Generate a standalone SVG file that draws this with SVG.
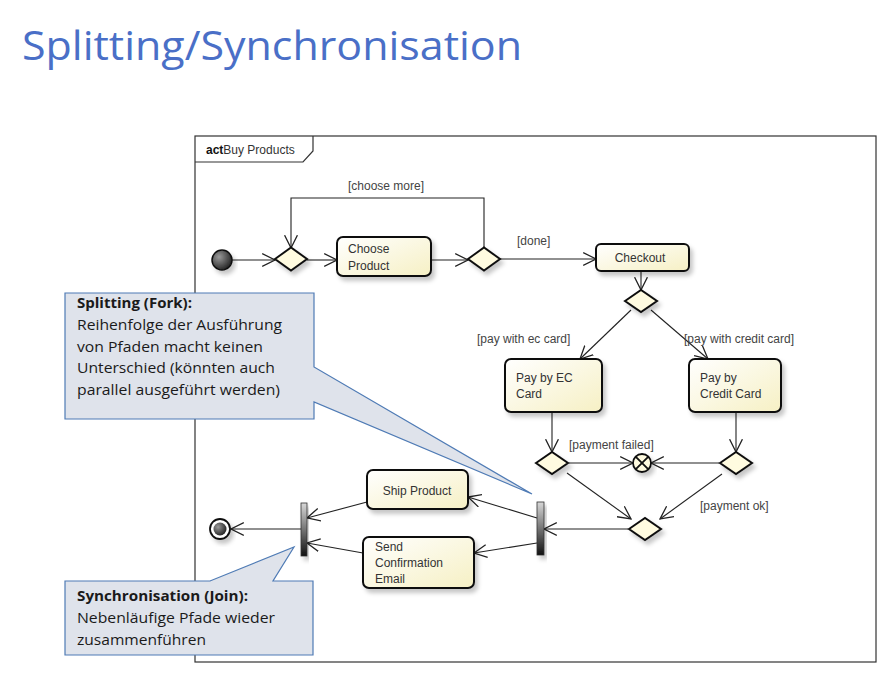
<svg xmlns="http://www.w3.org/2000/svg" width="890" height="685" viewBox="0 0 890 685">
<defs>
<style>
.title{font-family:"Open Sans","Noto Sans","Liberation Sans",sans-serif;font-size:40px;fill:#4a6fc7}
.frame{fill:none;stroke:#333;stroke-width:1.2}
.act{fill:url(#actG);stroke:#111;stroke-width:2;filter:url(#sh)}
.dec{fill:#fffbe0;stroke:#111;stroke-width:2;filter:url(#sh)}
.t{font-family:"Liberation Sans",Arial,sans-serif;font-size:12px;fill:#333}
.lbl{font-family:"Liberation Sans",Arial,sans-serif;font-size:12px;fill:#444}
.edge{fill:none;stroke:#222;stroke-width:1.1;marker-end:url(#arr)}
.call{fill:#dfe3eb;stroke:#4f7bb5;stroke-width:1.2}
.ct{font-family:"Open Sans","Noto Sans","Liberation Sans",sans-serif;font-size:15px;fill:#1a1a1a}
.ctb{font-family:"Open Sans","Noto Sans","Liberation Sans",sans-serif;font-size:15px;font-weight:bold;fill:#1a1a1a}
</style>
<linearGradient id="actG" x1="0" y1="0" x2="1" y2="1">
<stop offset="0" stop-color="#ffffff"/><stop offset="1" stop-color="#f6f0c4"/>
</linearGradient>
<radialGradient id="ballG" cx="0.35" cy="0.35" r="0.7">
<stop offset="0" stop-color="#9a9a9a"/><stop offset="1" stop-color="#222"/>
</radialGradient>
<linearGradient id="barG" x1="0" y1="0" x2="0" y2="1">
<stop offset="0" stop-color="#d8d8d8"/><stop offset="1" stop-color="#111"/>
</linearGradient>
<filter id="sh" x="-20%" y="-20%" width="150%" height="160%">
<feDropShadow dx="3" dy="4" stdDeviation="2" flood-color="#000" flood-opacity="0.22"/>
</filter>
<marker id="arr" markerUnits="userSpaceOnUse" markerWidth="14" markerHeight="14" viewBox="0 0 12 12" refX="11" refY="6" orient="auto">
<path d="M0,0.5 L11,6 L0,11.5" fill="none" stroke="#222" stroke-width="1.1"/>
</marker>
</defs>
<rect width="890" height="685" fill="#fff"/>
<text class="title" x="22" y="60" textLength="500" lengthAdjust="spacingAndGlyphs">Splitting/Synchronisation</text>

<g id="frame">
<rect class="frame" x="195" y="136" width="681" height="526"/>
<path class="frame" d="M195,162 L303,162 L313,151 L313,136"/>
<text x="206" y="154" font-family="Liberation Sans,Arial,sans-serif" font-size="12px" fill="#111"><tspan font-weight="bold">act</tspan><tspan fill="#333">Buy Products</tspan></text>
</g>

<g id="connectors">
<path class="edge" d="M232,260 L275,260"/>
<path class="edge" d="M307,260 L337,260"/>
<path class="edge" d="M431,260 L468,260"/>
<path class="edge" d="M484,248 L484,198 L291,198 L291,248"/>
<path class="edge" d="M500,259 L596,259"/>
<path class="edge" d="M641,271 L641,290"/>
<path class="edge" d="M631,310 L580,359"/>
<path class="edge" d="M651,310 L708,359"/>
<path class="edge" d="M552,412 L552,452"/>
<path class="edge" d="M736,412 L736,452"/>
<path class="edge" d="M569,463 L633,463"/>
<path class="edge" d="M719,463 L651,463"/>
<path class="edge" d="M567,473 L631,519"/>
<path class="edge" d="M722,474 L660,519"/>
<path class="edge" d="M628,529 L544,529"/>
<path class="edge" d="M537,518 L468,497"/>
<path class="edge" d="M537,543 L474,553"/>
<path class="edge" d="M367,502 L307,518"/>
<path class="edge" d="M363,553 L307,543"/>
<path class="edge" d="M301,529 L231,529"/>
</g>

<g id="labels">
<text class="lbl" x="386" y="190" text-anchor="middle">[choose more]</text>
<text class="lbl" x="517" y="245">[done]</text>
<text class="lbl" x="477" y="343">[pay with ec card]</text>
<text class="lbl" x="684" y="343">[pay with credit card]</text>
<text class="lbl" x="569" y="449">[payment failed]</text>
<text class="lbl" x="700" y="510">[payment ok]</text>
</g>

<g id="initial"><circle cx="222" cy="260" r="10" fill="url(#ballG)" stroke="#111" stroke-width="1.5" filter="url(#sh)"/></g>
<g id="dec1"><polygon class="dec" points="275,259 291,247.5 307,259 291,270.5"/></g>
<g id="choose"><rect class="act" x="337" y="237" width="94" height="39" rx="6"/><text class="t" x="348" y="253">Choose</text><text class="t" x="348" y="270">Product</text></g>
<g id="dec2"><polygon class="dec" points="468,259 484,247.5 500,259 484,270.5"/></g>
<g id="checkout"><rect class="act" x="596" y="244" width="93" height="27" rx="5"/><text class="t" x="640" y="262" text-anchor="middle">Checkout</text></g>
<g id="dec3"><polygon class="dec" points="625,301 641,290 657,301 641,312"/></g>
<g id="payec"><rect class="act" x="505" y="359" width="97" height="53" rx="6"/><text class="t" x="516" y="382">Pay by EC</text><text class="t" x="516" y="398">Card</text></g>
<g id="paycc"><rect class="act" x="689" y="359" width="92" height="53" rx="6"/><text class="t" x="700" y="382">Pay by</text><text class="t" x="700" y="398">Credit Card</text></g>
<g id="dec4"><polygon class="dec" points="536,463 552,452 568,463 552,474"/></g>
<g id="dec5"><polygon class="dec" points="720,463 736,452 752,463 736,474"/></g>
<g id="flowfinal"><circle cx="642" cy="463" r="9" fill="#fffbe0" stroke="#111" stroke-width="1.8" filter="url(#sh)"/><path d="M635.6,456.6 L648.4,469.4 M648.4,456.6 L635.6,469.4" stroke="#111" stroke-width="1.8"/></g>
<g id="merge"><polygon class="dec" points="629,529 645,518 661,529 645,540"/></g>
<g id="fork"><rect x="537" y="502" width="7" height="53" fill="url(#barG)" stroke="#333" stroke-width="0.8" filter="url(#sh)"/></g>
<g id="ship"><rect class="act" x="367" y="470" width="101" height="39" rx="6"/><text class="t" x="417" y="495" text-anchor="middle">Ship Product</text></g>
<g id="send"><rect class="act" x="363" y="537" width="111" height="51" rx="6"/><text class="t" x="375" y="551">Send</text><text class="t" x="375" y="567">Confirmation</text><text class="t" x="375" y="583">Email</text></g>
<g id="join"><rect x="301" y="503" width="6" height="53" fill="url(#barG)" stroke="#333" stroke-width="0.8" filter="url(#sh)"/></g>
<g id="final"><circle cx="220" cy="529" r="10" fill="#fff" stroke="#111" stroke-width="1.8" filter="url(#sh)"/><circle cx="220" cy="529" r="6.5" fill="url(#ballG)"/></g>

<g id="callout-fork">
<path class="call" d="M65,293 L314,293 L314,367 L532,494 L314,402 L314,419 L65,419 Z"/>
<text class="ctb" x="77" y="308" textLength="115" lengthAdjust="spacingAndGlyphs">Splitting (Fork):</text>
<text class="ct" x="77" y="330" textLength="205" lengthAdjust="spacingAndGlyphs">Reihenfolge der Ausführung</text>
<text class="ct" x="77" y="352" textLength="186" lengthAdjust="spacingAndGlyphs">von Pfaden macht keinen</text>
<text class="ct" x="77" y="373" textLength="198" lengthAdjust="spacingAndGlyphs">Unterschied (könnten auch</text>
<text class="ct" x="77" y="395" textLength="203" lengthAdjust="spacingAndGlyphs">parallel ausgeführt werden)</text>
</g>
<g id="callout-join">
<path class="call" d="M65,581 L210,581 L294,547 L273,581 L313,581 L313,655 L65,655 Z"/>
<text class="ctb" x="77" y="601" textLength="171" lengthAdjust="spacingAndGlyphs">Synchronisation (Join):</text>
<text class="ct" x="77" y="623" textLength="198" lengthAdjust="spacingAndGlyphs">Nebenläufige Pfade wieder</text>
<text class="ct" x="77" y="645" textLength="129" lengthAdjust="spacingAndGlyphs">zusammenführen</text>
</g>
</svg>
